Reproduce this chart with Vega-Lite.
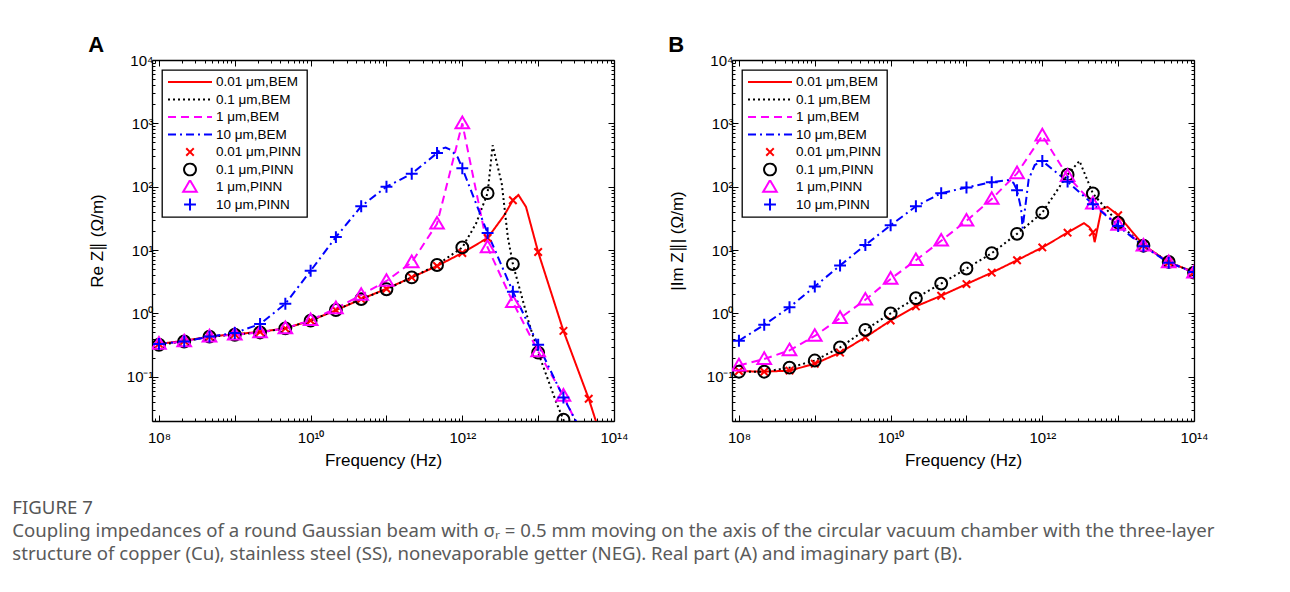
{
  "$schema": "https://vega.github.io/schema/vega-lite/v6.json",
  "background": "white",
  "padding": {"left": 12, "top": 34, "right": 0, "bottom": 0},
  "datasets": {
    "Aline": [
      {"s":"0.01 μm,BEM","f":1e8,"z":0.33},{"s":"0.01 μm,BEM","f":2.154e8,"z":0.37},{"s":"0.01 μm,BEM","f":4.642e8,"z":0.43},{"s":"0.01 μm,BEM","f":1e9,"z":0.47},{"s":"0.01 μm,BEM","f":2.154e9,"z":0.51},{"s":"0.01 μm,BEM","f":4.642e9,"z":0.58},{"s":"0.01 μm,BEM","f":1e10,"z":0.77},{"s":"0.01 μm,BEM","f":2.154e10,"z":1.12},{"s":"0.01 μm,BEM","f":4.642e10,"z":1.68},{"s":"0.01 μm,BEM","f":1e11,"z":2.45},{"s":"0.01 μm,BEM","f":2.154e11,"z":3.7},{"s":"0.01 μm,BEM","f":4.642e11,"z":5.6},{"s":"0.01 μm,BEM","f":1e12,"z":9.0},{"s":"0.01 μm,BEM","f":2.154e12,"z":15.5},{"s":"0.01 μm,BEM","f":3.548e12,"z":35},{"s":"0.01 μm,BEM","f":4.642e12,"z":61},{"s":"0.01 μm,BEM","f":5.495e12,"z":74},{"s":"0.01 μm,BEM","f":6.918e12,"z":48},{"s":"0.01 μm,BEM","f":1e13,"z":9.3},{"s":"0.01 μm,BEM","f":2.154e13,"z":0.53},{"s":"0.01 μm,BEM","f":4.642e13,"z":0.045},{"s":"0.01 μm,BEM","f":7.943e13,"z":0.006},
      {"s":"0.1 μm,BEM","f":1e8,"z":0.32},{"s":"0.1 μm,BEM","f":2.154e8,"z":0.36},{"s":"0.1 μm,BEM","f":4.642e8,"z":0.43},{"s":"0.1 μm,BEM","f":1e9,"z":0.46},{"s":"0.1 μm,BEM","f":2.154e9,"z":0.5},{"s":"0.1 μm,BEM","f":4.642e9,"z":0.58},{"s":"0.1 μm,BEM","f":1e10,"z":0.77},{"s":"0.1 μm,BEM","f":2.154e10,"z":1.13},{"s":"0.1 μm,BEM","f":4.642e10,"z":1.68},{"s":"0.1 μm,BEM","f":1e11,"z":2.4},{"s":"0.1 μm,BEM","f":2.154e11,"z":3.7},{"s":"0.1 μm,BEM","f":4.642e11,"z":5.8},{"s":"0.1 μm,BEM","f":1e12,"z":11},{"s":"0.1 μm,BEM","f":1.514e12,"z":26},{"s":"0.1 μm,BEM","f":2.154e12,"z":79},{"s":"0.1 μm,BEM","f":2.512e12,"z":450},{"s":"0.1 μm,BEM","f":3.311e12,"z":112},{"s":"0.1 μm,BEM","f":3.981e12,"z":16},{"s":"0.1 μm,BEM","f":4.642e12,"z":6},{"s":"0.1 μm,BEM","f":7.586e12,"z":0.7},{"s":"0.1 μm,BEM","f":1e13,"z":0.24},{"s":"0.1 μm,BEM","f":1.738e13,"z":0.039},{"s":"0.1 μm,BEM","f":2.154e13,"z":0.021},{"s":"0.1 μm,BEM","f":3.162e13,"z":0.004},
      {"s":"1 μm,BEM","f":1e8,"z":0.33},{"s":"1 μm,BEM","f":2.154e8,"z":0.36},{"s":"1 μm,BEM","f":4.642e8,"z":0.43},{"s":"1 μm,BEM","f":1e9,"z":0.46},{"s":"1 μm,BEM","f":2.154e9,"z":0.5},{"s":"1 μm,BEM","f":4.642e9,"z":0.58},{"s":"1 μm,BEM","f":1e10,"z":0.78},{"s":"1 μm,BEM","f":2.154e10,"z":1.2},{"s":"1 μm,BEM","f":4.642e10,"z":1.95},{"s":"1 μm,BEM","f":1e11,"z":3.25},{"s":"1 μm,BEM","f":2.154e11,"z":6.4},{"s":"1 μm,BEM","f":4.642e11,"z":26},{"s":"1 μm,BEM","f":1e12,"z":1000},{"s":"1 μm,BEM","f":2.154e12,"z":11},{"s":"1 μm,BEM","f":4.642e12,"z":1.5},{"s":"1 μm,BEM","f":1e13,"z":0.25},{"s":"1 μm,BEM","f":2.154e13,"z":0.05},{"s":"1 μm,BEM","f":5.012e13,"z":0.006},
      {"s":"10 μm,BEM","f":1e8,"z":0.33},{"s":"10 μm,BEM","f":2.154e8,"z":0.36},{"s":"10 μm,BEM","f":4.642e8,"z":0.43},{"s":"10 μm,BEM","f":1e9,"z":0.49},{"s":"10 μm,BEM","f":2.154e9,"z":0.68},{"s":"10 μm,BEM","f":4.642e9,"z":1.42},{"s":"10 μm,BEM","f":1e10,"z":4.7},{"s":"10 μm,BEM","f":2.154e10,"z":16},{"s":"10 μm,BEM","f":4.642e10,"z":49},{"s":"10 μm,BEM","f":1e11,"z":100},{"s":"10 μm,BEM","f":2.154e11,"z":160},{"s":"10 μm,BEM","f":4.642e11,"z":340},{"s":"10 μm,BEM","f":5.248e11,"z":395},{"s":"10 μm,BEM","f":6.026e11,"z":415},{"s":"10 μm,BEM","f":7.079e11,"z":380},{"s":"10 μm,BEM","f":8.71e11,"z":290},{"s":"10 μm,BEM","f":1e12,"z":195},{"s":"10 μm,BEM","f":2.154e12,"z":18.5},{"s":"10 μm,BEM","f":4.642e12,"z":2.2},{"s":"10 μm,BEM","f":1e13,"z":0.32},{"s":"10 μm,BEM","f":2.154e13,"z":0.047},{"s":"10 μm,BEM","f":5.012e13,"z":0.007}
    ],
    "Apts": [
      {"s":"0.01 μm,PINN","f":1e8,"z":0.33},{"s":"0.01 μm,PINN","f":2.154e8,"z":0.37},{"s":"0.01 μm,PINN","f":4.642e8,"z":0.43},{"s":"0.01 μm,PINN","f":1e9,"z":0.47},{"s":"0.01 μm,PINN","f":2.154e9,"z":0.51},{"s":"0.01 μm,PINN","f":4.642e9,"z":0.58},{"s":"0.01 μm,PINN","f":1e10,"z":0.77},{"s":"0.01 μm,PINN","f":2.154e10,"z":1.12},{"s":"0.01 μm,PINN","f":4.642e10,"z":1.68},{"s":"0.01 μm,PINN","f":1e11,"z":2.45},{"s":"0.01 μm,PINN","f":2.154e11,"z":3.7},{"s":"0.01 μm,PINN","f":4.642e11,"z":5.6},{"s":"0.01 μm,PINN","f":1e12,"z":9.0},{"s":"0.01 μm,PINN","f":2.154e12,"z":15.5},{"s":"0.01 μm,PINN","f":4.642e12,"z":61},{"s":"0.01 μm,PINN","f":1e13,"z":9.3},{"s":"0.01 μm,PINN","f":2.154e13,"z":0.53},{"s":"0.01 μm,PINN","f":4.642e13,"z":0.045},
      {"s":"0.1 μm,PINN","f":1e8,"z":0.32},{"s":"0.1 μm,PINN","f":2.154e8,"z":0.36},{"s":"0.1 μm,PINN","f":4.642e8,"z":0.43},{"s":"0.1 μm,PINN","f":1e9,"z":0.46},{"s":"0.1 μm,PINN","f":2.154e9,"z":0.5},{"s":"0.1 μm,PINN","f":4.642e9,"z":0.58},{"s":"0.1 μm,PINN","f":1e10,"z":0.77},{"s":"0.1 μm,PINN","f":2.154e10,"z":1.13},{"s":"0.1 μm,PINN","f":4.642e10,"z":1.68},{"s":"0.1 μm,PINN","f":1e11,"z":2.4},{"s":"0.1 μm,PINN","f":2.154e11,"z":3.7},{"s":"0.1 μm,PINN","f":4.642e11,"z":5.8},{"s":"0.1 μm,PINN","f":1e12,"z":11},{"s":"0.1 μm,PINN","f":2.154e12,"z":79},{"s":"0.1 μm,PINN","f":4.642e12,"z":6},{"s":"0.1 μm,PINN","f":1e13,"z":0.24},{"s":"0.1 μm,PINN","f":2.154e13,"z":0.021},
      {"s":"1 μm,PINN","f":1e8,"z":0.33},{"s":"1 μm,PINN","f":2.154e8,"z":0.36},{"s":"1 μm,PINN","f":4.642e8,"z":0.43},{"s":"1 μm,PINN","f":1e9,"z":0.46},{"s":"1 μm,PINN","f":2.154e9,"z":0.5},{"s":"1 μm,PINN","f":4.642e9,"z":0.58},{"s":"1 μm,PINN","f":1e10,"z":0.78},{"s":"1 μm,PINN","f":2.154e10,"z":1.2},{"s":"1 μm,PINN","f":4.642e10,"z":1.95},{"s":"1 μm,PINN","f":1e11,"z":3.25},{"s":"1 μm,PINN","f":2.154e11,"z":6.4},{"s":"1 μm,PINN","f":4.642e11,"z":26},{"s":"1 μm,PINN","f":1e12,"z":1000},{"s":"1 μm,PINN","f":2.154e12,"z":11},{"s":"1 μm,PINN","f":4.642e12,"z":1.5},{"s":"1 μm,PINN","f":1e13,"z":0.25},{"s":"1 μm,PINN","f":2.154e13,"z":0.05},
      {"s":"10 μm,PINN","f":1e8,"z":0.33},{"s":"10 μm,PINN","f":2.154e8,"z":0.36},{"s":"10 μm,PINN","f":4.642e8,"z":0.43},{"s":"10 μm,PINN","f":1e9,"z":0.49},{"s":"10 μm,PINN","f":2.154e9,"z":0.68},{"s":"10 μm,PINN","f":4.642e9,"z":1.42},{"s":"10 μm,PINN","f":1e10,"z":4.7},{"s":"10 μm,PINN","f":2.154e10,"z":16},{"s":"10 μm,PINN","f":4.642e10,"z":49},{"s":"10 μm,PINN","f":1e11,"z":100},{"s":"10 μm,PINN","f":2.154e11,"z":160},{"s":"10 μm,PINN","f":4.642e11,"z":340},{"s":"10 μm,PINN","f":1e12,"z":195},{"s":"10 μm,PINN","f":2.154e12,"z":18.5},{"s":"10 μm,PINN","f":4.642e12,"z":2.2},{"s":"10 μm,PINN","f":1e13,"z":0.32},{"s":"10 μm,PINN","f":2.154e13,"z":0.047}
    ],
    "Bline": [
      {"s":"0.01 μm,BEM","f":1e8,"z":0.123},{"s":"0.01 μm,BEM","f":2.154e8,"z":0.12},{"s":"0.01 μm,BEM","f":4.642e8,"z":0.125},{"s":"0.01 μm,BEM","f":1e9,"z":0.16},{"s":"0.01 μm,BEM","f":2.154e9,"z":0.24},{"s":"0.01 μm,BEM","f":4.642e9,"z":0.42},{"s":"0.01 μm,BEM","f":1e10,"z":0.77},{"s":"0.01 μm,BEM","f":2.154e10,"z":1.29},{"s":"0.01 μm,BEM","f":4.642e10,"z":1.9},{"s":"0.01 μm,BEM","f":1e11,"z":2.9},{"s":"0.01 μm,BEM","f":2.154e11,"z":4.4},{"s":"0.01 μm,BEM","f":4.642e11,"z":6.9},{"s":"0.01 μm,BEM","f":1e12,"z":11},{"s":"0.01 μm,BEM","f":2.154e12,"z":18.8},{"s":"0.01 μm,BEM","f":3.548e12,"z":26.5},{"s":"0.01 μm,BEM","f":4.169e12,"z":23},{"s":"0.01 μm,BEM","f":4.642e12,"z":19},{"s":"0.01 μm,BEM","f":4.898e12,"z":13.3},{"s":"0.01 μm,BEM","f":6.026e12,"z":44},{"s":"0.01 μm,BEM","f":7.244e12,"z":48},{"s":"0.01 μm,BEM","f":1e13,"z":35.5},{"s":"0.01 μm,BEM","f":2.154e13,"z":12},{"s":"0.01 μm,BEM","f":4.642e13,"z":6.4},{"s":"0.01 μm,BEM","f":1e14,"z":4.5},
      {"s":"0.1 μm,BEM","f":1e8,"z":0.12},{"s":"0.1 μm,BEM","f":2.154e8,"z":0.12},{"s":"0.1 μm,BEM","f":4.642e8,"z":0.139},{"s":"0.1 μm,BEM","f":1e9,"z":0.18},{"s":"0.1 μm,BEM","f":2.154e9,"z":0.29},{"s":"0.1 μm,BEM","f":4.642e9,"z":0.55},{"s":"0.1 μm,BEM","f":1e10,"z":1.0},{"s":"0.1 μm,BEM","f":2.154e10,"z":1.74},{"s":"0.1 μm,BEM","f":4.642e10,"z":2.95},{"s":"0.1 μm,BEM","f":1e11,"z":5.1},{"s":"0.1 μm,BEM","f":2.154e11,"z":8.9},{"s":"0.1 μm,BEM","f":4.642e11,"z":18},{"s":"0.1 μm,BEM","f":1e12,"z":39},{"s":"0.1 μm,BEM","f":2.154e12,"z":155},{"s":"0.1 μm,BEM","f":3.09e12,"z":255},{"s":"0.1 μm,BEM","f":4.642e12,"z":78},{"s":"0.1 μm,BEM","f":1e13,"z":27},{"s":"0.1 μm,BEM","f":2.154e13,"z":11.7},{"s":"0.1 μm,BEM","f":4.642e13,"z":6.5},{"s":"0.1 μm,BEM","f":1e14,"z":4.4},
      {"s":"1 μm,BEM","f":1e8,"z":0.15},{"s":"1 μm,BEM","f":2.154e8,"z":0.19},{"s":"1 μm,BEM","f":4.642e8,"z":0.26},{"s":"1 μm,BEM","f":1e9,"z":0.44},{"s":"1 μm,BEM","f":2.154e9,"z":0.84},{"s":"1 μm,BEM","f":4.642e9,"z":1.64},{"s":"1 μm,BEM","f":1e10,"z":3.5},{"s":"1 μm,BEM","f":2.154e10,"z":6.9},{"s":"1 μm,BEM","f":4.642e10,"z":14},{"s":"1 μm,BEM","f":1e11,"z":29},{"s":"1 μm,BEM","f":2.154e11,"z":64},{"s":"1 μm,BEM","f":4.642e11,"z":162},{"s":"1 μm,BEM","f":1e12,"z":640},{"s":"1 μm,BEM","f":2.154e12,"z":147},{"s":"1 μm,BEM","f":4.642e12,"z":54},{"s":"1 μm,BEM","f":1e13,"z":25},{"s":"1 μm,BEM","f":2.154e13,"z":11.7},{"s":"1 μm,BEM","f":4.642e13,"z":6.4},{"s":"1 μm,BEM","f":1e14,"z":4.4},
      {"s":"10 μm,BEM","f":1e8,"z":0.37},{"s":"10 μm,BEM","f":2.154e8,"z":0.66},{"s":"10 μm,BEM","f":4.642e8,"z":1.25},{"s":"10 μm,BEM","f":1e9,"z":2.66},{"s":"10 μm,BEM","f":2.154e9,"z":5.7},{"s":"10 μm,BEM","f":4.642e9,"z":12},{"s":"10 μm,BEM","f":1e10,"z":24.6},{"s":"10 μm,BEM","f":2.154e10,"z":49},{"s":"10 μm,BEM","f":4.642e10,"z":79},{"s":"10 μm,BEM","f":1e11,"z":97},{"s":"10 μm,BEM","f":2.154e11,"z":118},{"s":"10 μm,BEM","f":3.631e11,"z":128},{"s":"10 μm,BEM","f":4.169e11,"z":115},{"s":"10 μm,BEM","f":4.642e11,"z":88},{"s":"10 μm,BEM","f":5.248e11,"z":45},{"s":"10 μm,BEM","f":5.495e11,"z":22},{"s":"10 μm,BEM","f":6.607e11,"z":130},{"s":"10 μm,BEM","f":7.943e11,"z":220},{"s":"10 μm,BEM","f":1e12,"z":255},{"s":"10 μm,BEM","f":2.154e12,"z":120},{"s":"10 μm,BEM","f":4.642e12,"z":53},{"s":"10 μm,BEM","f":1e13,"z":24},{"s":"10 μm,BEM","f":2.154e13,"z":11.5},{"s":"10 μm,BEM","f":4.642e13,"z":6.3},{"s":"10 μm,BEM","f":1e14,"z":4.5}
    ],
    "Bpts": [
      {"s":"0.01 μm,PINN","f":1e8,"z":0.123},{"s":"0.01 μm,PINN","f":2.154e8,"z":0.12},{"s":"0.01 μm,PINN","f":4.642e8,"z":0.125},{"s":"0.01 μm,PINN","f":1e9,"z":0.16},{"s":"0.01 μm,PINN","f":2.154e9,"z":0.24},{"s":"0.01 μm,PINN","f":4.642e9,"z":0.42},{"s":"0.01 μm,PINN","f":1e10,"z":0.77},{"s":"0.01 μm,PINN","f":2.154e10,"z":1.29},{"s":"0.01 μm,PINN","f":4.642e10,"z":1.9},{"s":"0.01 μm,PINN","f":1e11,"z":2.9},{"s":"0.01 μm,PINN","f":2.154e11,"z":4.4},{"s":"0.01 μm,PINN","f":4.642e11,"z":6.9},{"s":"0.01 μm,PINN","f":1e12,"z":11},{"s":"0.01 μm,PINN","f":2.154e12,"z":18.8},{"s":"0.01 μm,PINN","f":4.642e12,"z":19},{"s":"0.01 μm,PINN","f":1e13,"z":35.5},{"s":"0.01 μm,PINN","f":2.154e13,"z":12},{"s":"0.01 μm,PINN","f":4.642e13,"z":6.4},{"s":"0.01 μm,PINN","f":1e14,"z":4.5},
      {"s":"0.1 μm,PINN","f":1e8,"z":0.12},{"s":"0.1 μm,PINN","f":2.154e8,"z":0.12},{"s":"0.1 μm,PINN","f":4.642e8,"z":0.139},{"s":"0.1 μm,PINN","f":1e9,"z":0.18},{"s":"0.1 μm,PINN","f":2.154e9,"z":0.29},{"s":"0.1 μm,PINN","f":4.642e9,"z":0.55},{"s":"0.1 μm,PINN","f":1e10,"z":1.0},{"s":"0.1 μm,PINN","f":2.154e10,"z":1.74},{"s":"0.1 μm,PINN","f":4.642e10,"z":2.95},{"s":"0.1 μm,PINN","f":1e11,"z":5.1},{"s":"0.1 μm,PINN","f":2.154e11,"z":8.9},{"s":"0.1 μm,PINN","f":4.642e11,"z":18},{"s":"0.1 μm,PINN","f":1e12,"z":39},{"s":"0.1 μm,PINN","f":2.154e12,"z":155},{"s":"0.1 μm,PINN","f":4.642e12,"z":78},{"s":"0.1 μm,PINN","f":1e13,"z":27},{"s":"0.1 μm,PINN","f":2.154e13,"z":11.7},{"s":"0.1 μm,PINN","f":4.642e13,"z":6.5},{"s":"0.1 μm,PINN","f":1e14,"z":4.4},
      {"s":"1 μm,PINN","f":1e8,"z":0.15},{"s":"1 μm,PINN","f":2.154e8,"z":0.19},{"s":"1 μm,PINN","f":4.642e8,"z":0.26},{"s":"1 μm,PINN","f":1e9,"z":0.44},{"s":"1 μm,PINN","f":2.154e9,"z":0.84},{"s":"1 μm,PINN","f":4.642e9,"z":1.64},{"s":"1 μm,PINN","f":1e10,"z":3.5},{"s":"1 μm,PINN","f":2.154e10,"z":6.9},{"s":"1 μm,PINN","f":4.642e10,"z":14},{"s":"1 μm,PINN","f":1e11,"z":29},{"s":"1 μm,PINN","f":2.154e11,"z":64},{"s":"1 μm,PINN","f":4.642e11,"z":162},{"s":"1 μm,PINN","f":1e12,"z":640},{"s":"1 μm,PINN","f":2.154e12,"z":147},{"s":"1 μm,PINN","f":4.642e12,"z":54},{"s":"1 μm,PINN","f":1e13,"z":25},{"s":"1 μm,PINN","f":2.154e13,"z":11.7},{"s":"1 μm,PINN","f":4.642e13,"z":6.4},{"s":"1 μm,PINN","f":1e14,"z":4.4},
      {"s":"10 μm,PINN","f":1e8,"z":0.37},{"s":"10 μm,PINN","f":2.154e8,"z":0.66},{"s":"10 μm,PINN","f":4.642e8,"z":1.25},{"s":"10 μm,PINN","f":1e9,"z":2.66},{"s":"10 μm,PINN","f":2.154e9,"z":5.7},{"s":"10 μm,PINN","f":4.642e9,"z":12},{"s":"10 μm,PINN","f":1e10,"z":24.6},{"s":"10 μm,PINN","f":2.154e10,"z":49},{"s":"10 μm,PINN","f":4.642e10,"z":79},{"s":"10 μm,PINN","f":1e11,"z":97},{"s":"10 μm,PINN","f":2.154e11,"z":118},{"s":"10 μm,PINN","f":4.642e11,"z":88},{"s":"10 μm,PINN","f":1e12,"z":255},{"s":"10 μm,PINN","f":2.154e12,"z":120},{"s":"10 μm,PINN","f":4.642e12,"z":53},{"s":"10 μm,PINN","f":1e13,"z":24},{"s":"10 μm,PINN","f":2.154e13,"z":11.5},{"s":"10 μm,PINN","f":4.642e13,"z":6.3},{"s":"10 μm,PINN","f":1e14,"z":4.5}
    ]
  },
  "title": {
    "text": "FIGURE 7",
    "subtitle": ["Coupling impedances of a round Gaussian beam with σᵣ = 0.5 mm moving on the axis of the circular vacuum chamber with the three-layer", "structure of copper (Cu), stainless steel (SS), nonevaporable getter (NEG). Real part (A) and imaginary part (B)."],
    "orient": "bottom",
    "anchor": "start",
    "frame": "bounds",
    "dx": -76,
    "offset": 31,
    "font": "Noto Sans",
    "fontSize": 18.6,
    "fontWeight": "normal",
    "color": "#555555",
    "subtitleFont": "Noto Sans",
    "subtitleFontSize": 18.6,
    "subtitleColor": "#5a5a5a",
    "subtitlePadding": 4,
    "subtitleLineHeight": 23
  },
  "spacing": 39,
  "hconcat": [
    {
      "width": 462,
      "height": 361,
      "title": {"text": "A", "anchor": "start", "frame": "bounds", "fontSize": 22, "fontWeight": "bold", "font": "Liberation Sans", "color": "#000", "offset": -4},
      "layer": [
        {
          "data": {"name": "Aline"},
          "mark": {"type": "line", "strokeWidth": 2, "clip": true, "strokeCap": "butt"},
          "encoding": {
            "x": {"field": "f", "type": "quantitative", "scale": {"type": "log", "domain": [81000000, 1e14], "nice": false},
              "axis": {"orient": "bottom", "title": "Frequency (Hz)", "values": [9e7,1e8,2e8,3e8,4e8,5e8,6e8,7e8,8e8,9e8,1e9,2e9,3e9,4e9,5e9,6e9,7e9,8e9,9e9,1e10,2e10,3e10,4e10,5e10,6e10,7e10,8e10,9e10,1e11,2e11,3e11,4e11,5e11,6e11,7e11,8e11,9e11,1e12,2e12,3e12,4e12,5e12,6e12,7e12,8e12,9e12,1e13,2e13,3e13,4e13,5e13,6e13,7e13,8e13,9e13,1e14],
                "labelExpr": "datum.value == 1e8 ? '10⁸' : datum.value == 1e10 ? '10¹⁰' : datum.value == 1e12 ? '10¹²' : datum.value == 1e14 ? '10¹⁴' : ''",
                "tickSize": {"condition": {"test": "abs(log(datum.value)/LN10 - round(log(datum.value)/LN10)) < 0.01", "value": -6}, "value": -3},
                "labelPadding": 15, "labelOverlap": false, "labelFlush": false, "titlePadding": 4}},
            "y": {"field": "z", "type": "quantitative", "scale": {"type": "log", "domain": [0.02, 10000], "nice": false},
              "axis": {"orient": "left", "title": "Re Z∥ (Ω/m)", "values": [0.02,0.03,0.04,0.05,0.06,0.07,0.08,0.09,0.1,0.2,0.3,0.4,0.5,0.6,0.7,0.8,0.9,1,2,3,4,5,6,7,8,9,10,20,30,40,50,60,70,80,90,100,200,300,400,500,600,700,800,900,1000,2000,3000,4000,5000,6000,7000,8000,9000,10000],
                "labelExpr": "datum.value == 0.1 ? '10⁻¹' : datum.value == 1 ? '10⁰' : datum.value == 10 ? '10¹' : datum.value == 100 ? '10²' : datum.value == 1000 ? '10³' : datum.value == 10000 ? '10⁴' : ''",
                "tickSize": {"condition": {"test": "abs(log(datum.value)/LN10 - round(log(datum.value)/LN10)) < 0.01", "value": -6}, "value": -3},
                "labelPadding": 5, "labelOverlap": false, "labelFlush": false, "titlePadding": 20}},
            "color": {"field": "s", "type": "nominal", "title": null, "scale": {"domain": ["0.01 μm,BEM","0.1 μm,BEM","1 μm,BEM","10 μm,BEM","0.01 μm,PINN","0.1 μm,PINN","1 μm,PINN","10 μm,PINN"], "range": ["#ff0000","#000000","#ff00ff","#0000ff","#ff0000","#000000","#ff00ff","#0000ff"]}},
            "strokeDash": {"field": "s", "type": "nominal", "title": null, "scale": {"domain": ["0.01 μm,BEM","0.1 μm,BEM","1 μm,BEM","10 μm,BEM","0.01 μm,PINN","0.1 μm,PINN","1 μm,PINN","10 μm,PINN"], "range": [[1,0],[2,3],[8,5],[8,4,2,4],[1,0],[1,0],[1,0],[1,0]]}}
          }
        },
        {
          "data": {"name": "Apts"},
          "mark": {"type": "point", "filled": false, "size": 1936, "strokeWidth": 2, "opacity": 1, "clip": true},
          "encoding": {
            "x": {"field": "f", "type": "quantitative", "scale": {"type": "log", "domain": [81000000, 1e14], "nice": false},
              "axis": {"orient": "top", "title": null, "labels": false, "values": [9e7,1e8,2e8,3e8,4e8,5e8,6e8,7e8,8e8,9e8,1e9,2e9,3e9,4e9,5e9,6e9,7e9,8e9,9e9,1e10,2e10,3e10,4e10,5e10,6e10,7e10,8e10,9e10,1e11,2e11,3e11,4e11,5e11,6e11,7e11,8e11,9e11,1e12,2e12,3e12,4e12,5e12,6e12,7e12,8e12,9e12,1e13,2e13,3e13,4e13,5e13,6e13,7e13,8e13,9e13,1e14],
                "tickSize": {"condition": {"test": "abs(log(datum.value)/LN10 - round(log(datum.value)/LN10)) < 0.01", "value": -6}, "value": -3}}},
            "y": {"field": "z", "type": "quantitative", "scale": {"type": "log", "domain": [0.02, 10000], "nice": false},
              "axis": {"orient": "right", "title": null, "labels": false, "values": [0.02,0.03,0.04,0.05,0.06,0.07,0.08,0.09,0.1,0.2,0.3,0.4,0.5,0.6,0.7,0.8,0.9,1,2,3,4,5,6,7,8,9,10,20,30,40,50,60,70,80,90,100,200,300,400,500,600,700,800,900,1000,2000,3000,4000,5000,6000,7000,8000,9000,10000],
                "tickSize": {"condition": {"test": "abs(log(datum.value)/LN10 - round(log(datum.value)/LN10)) < 0.01", "value": -6}, "value": -3}}},
            "color": {"field": "s", "type": "nominal", "title": null, "scale": {"domain": ["0.01 μm,BEM","0.1 μm,BEM","1 μm,BEM","10 μm,BEM","0.01 μm,PINN","0.1 μm,PINN","1 μm,PINN","10 μm,PINN"], "range": ["#ff0000","#000000","#ff00ff","#0000ff","#ff0000","#000000","#ff00ff","#0000ff"]}},
            "shape": {"field": "s", "type": "nominal", "title": null, "scale": {"domain": ["0.01 μm,BEM","0.1 μm,BEM","1 μm,BEM","10 μm,BEM","0.01 μm,PINN","0.1 μm,PINN","1 μm,PINN","10 μm,PINN"], "range": ["M-1,0H1","M-1,0H1","M-1,0H1","M-1,0H1","M-0.17,-0.17L0.17,0.17M-0.17,0.17L0.17,-0.17","M0.27,0A0.27,0.27,0,1,1,-0.27,0A0.27,0.27,0,1,1,0.27,0Z","M0,-0.31L0.31,0.22L-0.31,0.22Z","M-0.27,0H0.27M0,-0.27V0.27"]}}
          }
        }
      ],
      "resolve": {"axis": {"x": "independent", "y": "independent"}}
    },
    {
      "width": 462,
      "height": 361,
      "title": {"text": "B", "anchor": "start", "frame": "bounds", "fontSize": 22, "fontWeight": "bold", "font": "Liberation Sans", "color": "#000", "offset": -4},
      "layer": [
        {
          "data": {"name": "Bline"},
          "mark": {"type": "line", "strokeWidth": 2, "clip": true, "strokeCap": "butt"},
          "encoding": {
            "x": {"field": "f", "type": "quantitative", "scale": {"type": "log", "domain": [81000000, 1e14], "nice": false},
              "axis": {"orient": "bottom", "title": "Frequency (Hz)", "values": [9e7,1e8,2e8,3e8,4e8,5e8,6e8,7e8,8e8,9e8,1e9,2e9,3e9,4e9,5e9,6e9,7e9,8e9,9e9,1e10,2e10,3e10,4e10,5e10,6e10,7e10,8e10,9e10,1e11,2e11,3e11,4e11,5e11,6e11,7e11,8e11,9e11,1e12,2e12,3e12,4e12,5e12,6e12,7e12,8e12,9e12,1e13,2e13,3e13,4e13,5e13,6e13,7e13,8e13,9e13,1e14],
                "labelExpr": "datum.value == 1e8 ? '10⁸' : datum.value == 1e10 ? '10¹⁰' : datum.value == 1e12 ? '10¹²' : datum.value == 1e14 ? '10¹⁴' : ''",
                "tickSize": {"condition": {"test": "abs(log(datum.value)/LN10 - round(log(datum.value)/LN10)) < 0.01", "value": -6}, "value": -3},
                "labelPadding": 15, "labelOverlap": false, "labelFlush": false, "titlePadding": 4}},
            "y": {"field": "z", "type": "quantitative", "scale": {"type": "log", "domain": [0.02, 10000], "nice": false},
              "axis": {"orient": "left", "title": "|Im Z∥| (Ω/m)", "values": [0.02,0.03,0.04,0.05,0.06,0.07,0.08,0.09,0.1,0.2,0.3,0.4,0.5,0.6,0.7,0.8,0.9,1,2,3,4,5,6,7,8,9,10,20,30,40,50,60,70,80,90,100,200,300,400,500,600,700,800,900,1000,2000,3000,4000,5000,6000,7000,8000,9000,10000],
                "labelExpr": "datum.value == 0.1 ? '10⁻¹' : datum.value == 1 ? '10⁰' : datum.value == 10 ? '10¹' : datum.value == 100 ? '10²' : datum.value == 1000 ? '10³' : datum.value == 10000 ? '10⁴' : ''",
                "tickSize": {"condition": {"test": "abs(log(datum.value)/LN10 - round(log(datum.value)/LN10)) < 0.01", "value": -6}, "value": -3},
                "labelPadding": 5, "labelOverlap": false, "labelFlush": false, "titlePadding": 20}},
            "color": {"field": "s", "type": "nominal", "title": null, "scale": {"domain": ["0.01 μm,BEM","0.1 μm,BEM","1 μm,BEM","10 μm,BEM","0.01 μm,PINN","0.1 μm,PINN","1 μm,PINN","10 μm,PINN"], "range": ["#ff0000","#000000","#ff00ff","#0000ff","#ff0000","#000000","#ff00ff","#0000ff"]}},
            "strokeDash": {"field": "s", "type": "nominal", "title": null, "scale": {"domain": ["0.01 μm,BEM","0.1 μm,BEM","1 μm,BEM","10 μm,BEM","0.01 μm,PINN","0.1 μm,PINN","1 μm,PINN","10 μm,PINN"], "range": [[1,0],[2,3],[8,5],[8,4,2,4],[1,0],[1,0],[1,0],[1,0]]}}
          }
        },
        {
          "data": {"name": "Bpts"},
          "mark": {"type": "point", "filled": false, "size": 1936, "strokeWidth": 2, "opacity": 1, "clip": true},
          "encoding": {
            "x": {"field": "f", "type": "quantitative", "scale": {"type": "log", "domain": [81000000, 1e14], "nice": false},
              "axis": {"orient": "top", "title": null, "labels": false, "values": [9e7,1e8,2e8,3e8,4e8,5e8,6e8,7e8,8e8,9e8,1e9,2e9,3e9,4e9,5e9,6e9,7e9,8e9,9e9,1e10,2e10,3e10,4e10,5e10,6e10,7e10,8e10,9e10,1e11,2e11,3e11,4e11,5e11,6e11,7e11,8e11,9e11,1e12,2e12,3e12,4e12,5e12,6e12,7e12,8e12,9e12,1e13,2e13,3e13,4e13,5e13,6e13,7e13,8e13,9e13,1e14],
                "tickSize": {"condition": {"test": "abs(log(datum.value)/LN10 - round(log(datum.value)/LN10)) < 0.01", "value": -6}, "value": -3}}},
            "y": {"field": "z", "type": "quantitative", "scale": {"type": "log", "domain": [0.02, 10000], "nice": false},
              "axis": {"orient": "right", "title": null, "labels": false, "values": [0.02,0.03,0.04,0.05,0.06,0.07,0.08,0.09,0.1,0.2,0.3,0.4,0.5,0.6,0.7,0.8,0.9,1,2,3,4,5,6,7,8,9,10,20,30,40,50,60,70,80,90,100,200,300,400,500,600,700,800,900,1000,2000,3000,4000,5000,6000,7000,8000,9000,10000],
                "tickSize": {"condition": {"test": "abs(log(datum.value)/LN10 - round(log(datum.value)/LN10)) < 0.01", "value": -6}, "value": -3}}},
            "color": {"field": "s", "type": "nominal", "title": null, "scale": {"domain": ["0.01 μm,BEM","0.1 μm,BEM","1 μm,BEM","10 μm,BEM","0.01 μm,PINN","0.1 μm,PINN","1 μm,PINN","10 μm,PINN"], "range": ["#ff0000","#000000","#ff00ff","#0000ff","#ff0000","#000000","#ff00ff","#0000ff"]}},
            "shape": {"field": "s", "type": "nominal", "title": null, "scale": {"domain": ["0.01 μm,BEM","0.1 μm,BEM","1 μm,BEM","10 μm,BEM","0.01 μm,PINN","0.1 μm,PINN","1 μm,PINN","10 μm,PINN"], "range": ["M-1,0H1","M-1,0H1","M-1,0H1","M-1,0H1","M-0.17,-0.17L0.17,0.17M-0.17,0.17L0.17,-0.17","M0.27,0A0.27,0.27,0,1,1,-0.27,0A0.27,0.27,0,1,1,0.27,0Z","M0,-0.31L0.31,0.22L-0.31,0.22Z","M-0.27,0H0.27M0,-0.27V0.27"]}}
          }
        }
      ],
      "resolve": {"axis": {"x": "independent", "y": "independent"}}
    }
  ],
  "resolve": {"scale": {"color": "independent", "shape": "independent", "strokeDash": "independent"}},
  "config": {
    "view": {"stroke": null},
    "axis": {"domainColor": "#000", "domainWidth": 1.3, "tickColor": "#000", "tickWidth": 1, "labelColor": "#000", "labelFont": "Liberation Sans", "labelFontSize": 15, "titleFont": "Liberation Sans", "titleFontSize": 17, "titleFontWeight": "normal", "titleColor": "#000", "grid": false},
    "legend": {"orient": "top-left", "offset": 10, "strokeColor": "#000", "strokeWidth": 1.3, "fillColor": "#fff", "padding": 5, "symbolSize": 1936, "clipHeight": 14, "rowPadding": 3.5, "labelFontSize": 13.5, "labelFont": "Liberation Sans", "labelColor": "#000", "labelOffset": 3, "labelLimit": 300, "symbolStrokeWidth": 2, "symbolOffset": 0}
  }
}
